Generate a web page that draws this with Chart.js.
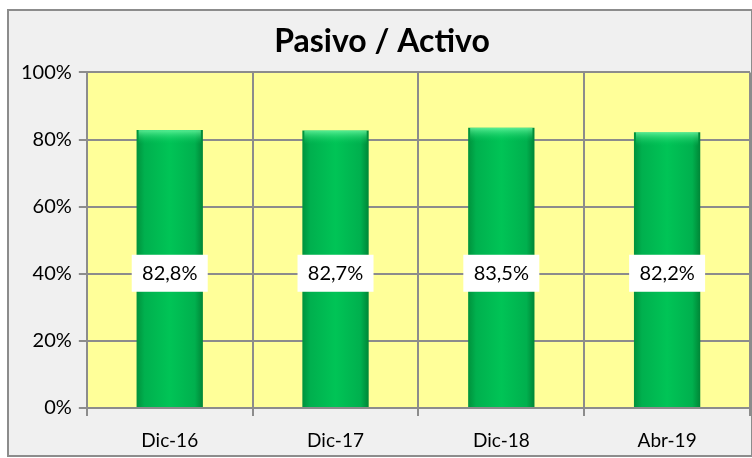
<!DOCTYPE html>
<html>
<head>
<meta charset="utf-8">
<script src="https://cdn.jsdelivr.net/npm/chart.js@4.4.0/dist/chart.umd.min.js"></script>
<style>
body{margin:0;background:#fff;}
#box{width:752px;height:458px;}
</style>
</head>
<body>
<div id="box"><canvas id="ratioChart"></canvas></div>
<script>
const categories=["Dic-16","Dic-17","Dic-18","Abr-19"];
const values=[82.8,82.7,83.5,82.2];
const tickValues=[0,20,40,60,80,100];
const labelLevel=40;

function fmt(v){
return v.toFixed(1).replace(".",",")+"%";
}

const framePlugin={
id:'frame',
beforeDraw(chart){
const c=chart.ctx;
const a=chart.chartArea;
c.save();
c.fillStyle='#f0f0f0';
c.fillRect(7,9,745,447);
c.strokeStyle='#8c8c8c';
c.lineWidth=2;
c.strokeRect(8,10,744,446);
c.fillStyle='#ffff99';
c.fillRect(a.left,a.top,a.right-a.left,a.bottom-a.top);
c.restore();
},
afterDatasetsDraw(chart){
const c=chart.ctx;
const meta=chart.getDatasetMeta(0);
const y=chart.scales.y.getPixelForValue(labelLevel);
c.save();
// light band on top of each bar
meta.data.forEach(function(bar){
const g=c.createLinearGradient(0,bar.y,0,bar.y+14);
g.addColorStop(0,'rgba(120,255,170,0.75)');
g.addColorStop(1,'rgba(0,200,90,0)');
c.fillStyle=g;
c.fillRect(bar.x-bar.width/2+2,bar.y,bar.width-4,14);
});
c.font='20px Lato, "Open Sans", sans-serif';
c.textAlign='center';
c.textBaseline='middle';
meta.data.forEach(function(bar,i){
c.fillStyle='#ffffff';
c.fillRect(bar.x-38,y-19,76,37);
c.fillStyle='#000';
c.fillText(fmt(values[i]),bar.x,y);
});
c.restore();
}
};

const ctx=document.getElementById('ratioChart').getContext('2d');

new Chart(ctx,{
type:'bar',
data:{
labels:categories,
datasets:[{
data:values,
backgroundColor:function(context){
const chart=context.chart;
if(!chart.chartArea||!chart.scales.x) return '#00b050';
const cx=chart.scales.x.getPixelForValue(context.dataIndex);
const w=(chart.chartArea.right-chart.chartArea.left)/categories.length*0.4;
const g=chart.ctx.createLinearGradient(cx-w/2,0,cx+w/2,0);
g.addColorStop(0,'#00923c');
g.addColorStop(0.12,'#00b04e');
g.addColorStop(0.5,'#00c456');
g.addColorStop(0.88,'#00b04e');
g.addColorStop(1,'#008636');
return g;
},
borderWidth:0,
barPercentage:0.4,
categoryPercentage:1
}]
},
options:{
responsive:true,
maintainAspectRatio:false,
animation:false,
layout:{padding:{left:14,right:2,top:16,bottom:0}},
plugins:{
legend:{display:false},
tooltip:{enabled:false},
title:{
display:true,
text:'Pasivo / Activo',
color:'#000',
font:{family:'Lato, "Open Sans", sans-serif',size:32,weight:'bold'},
padding:{top:6,bottom:12}
}
},
scales:{
x:{
afterFit:function(axis){axis.height=50;},
grid:{color:'#8c8c8c',lineWidth:2,offset:true,tickLength:8,drawTicks:true},
border:{color:'#8c8c8c',width:2},
ticks:{color:'#000',font:{family:'Lato, "Open Sans", sans-serif',size:19},padding:13}
},
y:{
min:0,max:100,
afterBuildTicks:function(axis){axis.ticks=tickValues.map(function(v){return {value:v};});},
grid:{color:'#8c8c8c',lineWidth:2,tickLength:8},
border:{color:'#8c8c8c',width:2},
ticks:{color:'#000',font:{family:'Lato, "Open Sans", sans-serif',size:20},padding:7,
callback:function(v){return v+"%";}}
}
}
},
plugins:[framePlugin]
});
</script>
</body>
</html>
